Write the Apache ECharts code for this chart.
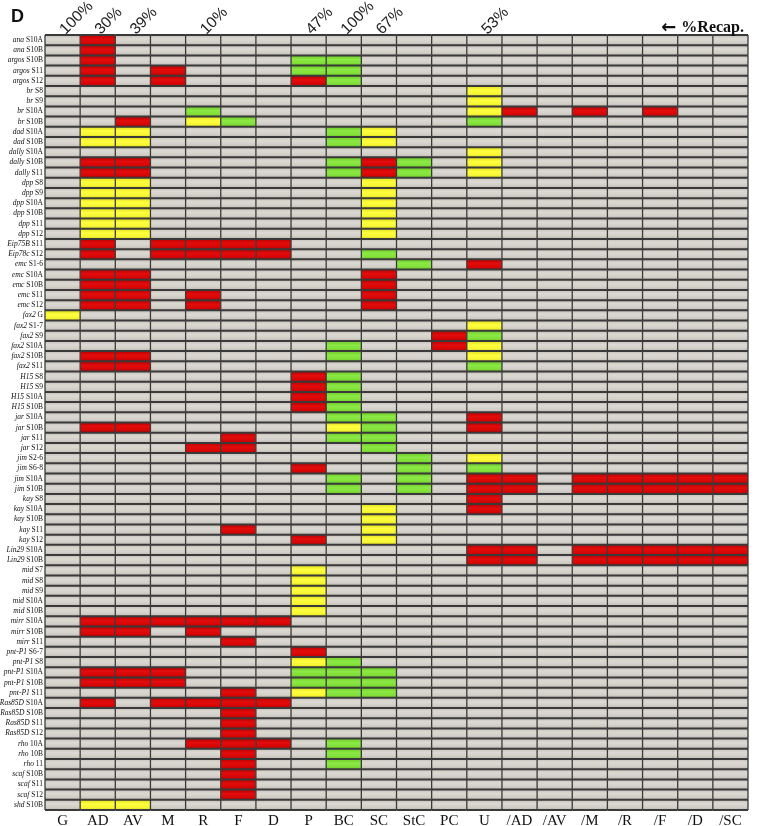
<!DOCTYPE html>
<html>
<head>
<meta charset="utf-8">
<script src="https://cdn.jsdelivr.net/npm/echarts@6/dist/echarts.min.js"></script>
<style>html,body{margin:0;padding:0;background:#fff}#c{width:757px;height:826px}</style>
</head>
<body>
<div id="c"></div>
<script>
// Columns (bottom labels)
const columns = ['G','AD','AV','M','R','F','D','P','BC','SC','StC','PC','U','/AD','/AV','/M','/R','/F','/D','/SC'];
// Top % recapitulation labels per column
const recapLabels = ['100%','30%','39%','','10%','','','47%','100%','67%','','','53%','','','','','','',''];
// Row labels: gene (italic) + stage
const rowLabels = [
 'ana S10A','ana S10B','argos S10B','argos S11','argos S12','br S8','br S9','br S10A','br S10B',
 'dad S10A','dad S10B','dally S10A','dally S10B','dally S11',
 'dpp S8','dpp S9','dpp S10A','dpp S10B','dpp S11','dpp S12','Eip75B S11','Eip78c S12',
 'emc S1-6','emc S10A','emc S10B','emc S11','emc S12',
 'fax2 G','fax2 S1-7','fax2 S9','fax2 S10A','fax2 S10B','fax2 S11',
 'H15 S8','H15 S9','H15 S10A','H15 S10B','jar S10A','jar S10B','jar S11','jar S12',
 'jim S2-6','jim S6-8','jim S10A','jim S10B','kay S8','kay S10A','kay S10B','kay S11','kay S12',
 'Lin29 S10A','Lin29 S10B','mid S7','mid S8','mid S9','mid S10A','mid S10B',
 'mirr S10A','mirr S10B','mirr S11','pnt-P1 S6-7','pnt-P1 S8','pnt-P1 S10A','pnt-P1 S10B','pnt-P1 S11',
 'Ras85D S10A','Ras85D S10B','Ras85D S11','Ras85D S12','rho 10A','rho 10B','rho 11',
 'scaf S10B','scaf S11','scaf S12','shd S10B'
];
// Cell status per row, one char per column: '.' none, 'R' red, 'Y' yellow, 'G' green
const cellStatus = [
 '.R..................', // ana S10A
 '.R..................', // ana S10B
 '.R.....GG...........', // argos S10B
 '.R.R...GG...........', // argos S11
 '.R.R...RG...........', // argos S12
 '............Y.......', // br S8
 '............Y.......', // br S9
 '....G.......YR.R.R..', // br S10A
 '..R.YG......G.......', // br S10B
 '.YY.....GY..........', // dad S10A
 '.YY.....GY..........', // dad S10B
 '............Y.......', // dally S10A
 '.RR.....GRG.Y.......', // dally S10B
 '.RR.....GRG.Y.......', // dally S11
 '.YY......Y..........', // dpp S8
 '.YY......Y..........', // dpp S9
 '.YY......Y..........', // dpp S10A
 '.YY......Y..........', // dpp S10B
 '.YY......Y..........', // dpp S11
 '.YY......Y..........', // dpp S12
 '.R.RRRR.............', // Eip75B S11
 '.R.RRRR..G..........', // Eip78c S12
 '..........G.R.......', // emc S1-6
 '.RR......R..........', // emc S10A
 '.RR......R..........', // emc S10B
 '.RR.R....R..........', // emc S11
 '.RR.R....R..........', // emc S12
 'Y...................', // fax2 G
 '............Y.......', // fax2 S1-7
 '...........RG.......', // fax2 S9
 '........G..RY.......', // fax2 S10A
 '.RR.....G...Y.......', // fax2 S10B
 '.RR.........G.......', // fax2 S11
 '.......RG...........', // H15 S8
 '.......RG...........', // H15 S9
 '.......RG...........', // H15 S10A
 '.......RG...........', // H15 S10B
 '........GG..R.......', // jar S10A
 '.RR.....YG..R.......', // jar S10B
 '.....R..GG..........', // jar S11
 '....RR...G..........', // jar S12
 '..........G.Y.......', // jim S2-6
 '.......R..G.G.......', // jim S6-8
 '........G.G.RR.RRRRR', // jim S10A
 '........G.G.RR.RRRRR', // jim S10B
 '............R.......', // kay S8
 '.........Y..R.......', // kay S10A
 '.........Y..........', // kay S10B
 '.....R...Y..........', // kay S11
 '.......R.Y..........', // kay S12
 '............RR.RRRRR', // Lin29 S10A
 '............RR.RRRRR', // Lin29 S10B
 '.......Y............', // mid S7
 '.......Y............', // mid S8
 '.......Y............', // mid S9
 '.......Y............', // mid S10A
 '.......Y............', // mid S10B
 '.RRRRRR.............', // mirr S10A
 '.RR.R...............', // mirr S10B
 '.....R..............', // mirr S11
 '.......R............', // pnt-P1 S6-7
 '.......YG...........', // pnt-P1 S8
 '.RRR...GGG..........', // pnt-P1 S10A
 '.RRR...GGG..........', // pnt-P1 S10B
 '.....R.YGG..........', // pnt-P1 S11
 '.R.RRRR.............', // Ras85D S10A
 '.....R..............', // Ras85D S10B
 '.....R..............', // Ras85D S11
 '.....R..............', // Ras85D S12
 '....RRR.G...........', // rho 10A
 '.....R..G...........', // rho 10B
 '.....R..G...........', // rho 11
 '.....R..............', // scaf S10B
 '.....R..............', // scaf S11
 '.....R..............', // scaf S12
 '.YY.................'  // shd S10B
];

const codeOf = {'.':0,'R':1,'Y':2,'G':3};
const data = [];
cellStatus.forEach((row, r) => {
  for (let c = 0; c < columns.length; c++) data.push([c, r, codeOf[row[c]] || 0]);
});

function grad(stops){
  return new echarts.graphic.LinearGradient(0,0,0,1, stops.map((s)=>({offset:s[0], color:s[1]})));
}
const fills = [
  [[0,'#c2beb7'],[0.35,'#dcd9d3'],[0.7,'#d3d0c9'],[1,'#bcb8b1']],
  [[0,'#b80000'],[0.4,'#e20c0c'],[0.75,'#d80606'],[1,'#b40000']],
  [[0,'#dede1e'],[0.4,'#ffff40'],[0.75,'#f6f634'],[1,'#dcdc1c']],
  [[0,'#6cc828'],[0.4,'#8ce844'],[0.75,'#82e03a'],[1,'#68c424']]
];

const LF = 7.5;
const chart = echarts.init(document.getElementById('c'), null, {renderer:'canvas'});
chart.setOption({
  animation: false,
  backgroundColor: '#ffffff',
  title: [
    {text:'D', left:6, top:3, textStyle:{fontFamily:'Liberation Sans', fontWeight:'bold', fontSize:18, color:'#111'}},
    {text:'{a|\u2190} {b|%Recap.}', right:8, top:14, textStyle:{rich:{
      a:{fontFamily:'DejaVu Sans', fontWeight:'bold', fontSize:18, color:'#111'},
      b:{fontFamily:'Liberation Serif', fontWeight:'bold', fontSize:16, color:'#111'}}}}
  ],
  grid: {left:45, right:9, top:35, bottom:16, containLabel:false, outerBoundsMode:'none'},
  xAxis: [
    {type:'category', data:columns, position:'bottom',
     axisLine:{show:false}, axisTick:{show:false}, splitLine:{show:false},
     axisLabel:{interval:0, margin:4, fontFamily:'Liberation Serif', fontSize:15, color:'#111'}},
    {type:'category', data:recapLabels, position:'top',
     axisLine:{show:false}, axisTick:{show:false}, splitLine:{show:false},
     axisLabel:{interval:0, rotate:-45, margin:3, fontFamily:'Liberation Sans', fontSize:15.5, color:'#222'}}
  ],
  yAxis: {type:'category', data:rowLabels, inverse:true,
    axisLine:{show:false}, axisTick:{show:false}, splitLine:{show:false},
    axisLabel:{interval:0, margin:2, fontFamily:'Liberation Serif', fontSize:LF, color:'#111',
      formatter:function(v){ const i=v.indexOf(' '); return '{g|'+v.slice(0,i)+'} {s|'+v.slice(i+1)+'}'; },
      rich:{g:{fontStyle:'italic', fontFamily:'Liberation Serif', fontSize:LF, color:'#111'},
            s:{fontFamily:'Liberation Serif', fontSize:LF, color:'#111'}}}},
  series: [{
    type:'custom', xAxisIndex:0, yAxisIndex:0, data:data, clip:false,
    renderItem:function(params, api){
      const x=api.value(0), y=api.value(1), c=api.value(2);
      const p=api.coord([x,y]);
      const s=api.size([1,1]);
      const x0=p[0]-s[0]/2, y0=p[1]-s[1]/2, w=s[0], h=s[1];
      const last = y === rowLabels.length-1, lastCol = x === columns.length-1;
      const children = [
        {type:'rect', shape:{x:x0, y:y0, width:w, height:h}, style:{fill:grad(fills[c])}},
        {type:'line', shape:{x1:x0, y1:y0, x2:x0+w, y2:y0}, style:{stroke:'#3a3a3a', lineWidth:2}},
        {type:'line', shape:{x1:x0, y1:y0, x2:x0, y2:y0+h}, style:{stroke:'#3a3a3a', lineWidth:1.3}}
      ];
      if (last) children.push({type:'line', shape:{x1:x0, y1:y0+h, x2:x0+w, y2:y0+h}, style:{stroke:'#3a3a3a', lineWidth:2}});
      if (lastCol) children.push({type:'line', shape:{x1:x0+w, y1:y0, x2:x0+w, y2:y0+h}, style:{stroke:'#3a3a3a', lineWidth:1.3}});
      return {type:'group', children:children};
    }
  }]
});
</script>
</body>
</html>
